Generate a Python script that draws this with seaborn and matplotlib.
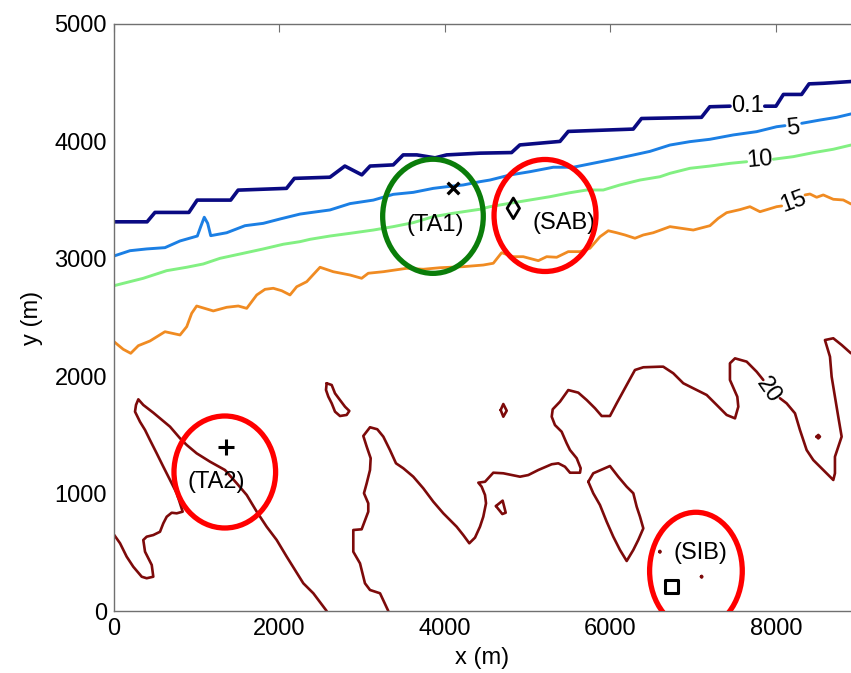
import matplotlib
matplotlib.use("Agg")
import matplotlib.pyplot as plt
import seaborn as sns
import numpy as np
import pandas as pd
from matplotlib.patches import Ellipse

# ---------------- data (metres) ----------------
levels = ["0.1", "5", "10", "15", "20"]
level_colors = ["#0a0a82", "#1b7fe4", "#82f082", "#f08b22", "#7d0a0a"]

# contour 0.1 (two pieces, split by the inline label)
c01_a_x = [0, 400, 495, 905, 1005, 1410, 1500, 2085, 2180, 2610, 2790, 2995, 3095, 3375,
           3495, 3660, 3880, 4020, 4425, 4805, 4905, 5390, 5490, 6275, 6375, 7100, 7200, 7445]
c01_a_y = [3315, 3315, 3395, 3395, 3500, 3500, 3585, 3600, 3685, 3695, 3790, 3715, 3790, 3800,
           3885, 3885, 3860, 3885, 3900, 3905, 3970, 4000, 4085, 4105, 4195, 4205, 4295, 4300]
c01_b_x = [7865, 8000, 8090, 8310, 8400, 8570, 8907]
c01_b_y = [4300, 4300, 4400, 4400, 4490, 4495, 4510]

# contour 5
c5_a_x = [0, 193, 395, 616, 798, 1007, 1048, 1091, 1132, 1169, 1362, 1583, 1804, 2006, 2248,
          2369, 2610, 2852, 3134, 3375, 3617, 3859, 4021, 4221, 4423, 4544, 4786, 5027, 5309,
          5551, 5792, 6034, 6276, 6477, 6719, 6961, 7202, 7484, 7767, 8009, 8109]
c5_a_y = [3024, 3069, 3084, 3095, 3152, 3194, 3274, 3354, 3302, 3197, 3222, 3282, 3302, 3339, 3381,
          3393, 3416, 3470, 3500, 3549, 3566, 3600, 3614, 3629, 3657, 3671, 3714, 3742, 3780,
          3780, 3814, 3848, 3884, 3915, 3969, 3998, 4018, 4055, 4083, 4125, 4134]
c5_b_x = [8311, 8532, 8733, 8907]
c5_b_y = [4154, 4182, 4205, 4234]

# contour 10
c10_a_x = [0, 354, 637, 879, 1079, 1281, 1563, 1804, 2046, 2248, 2369, 2610, 2852, 3134, 3375,
           3617, 3859, 4100, 4423, 4544, 4786, 5027, 5269, 5511, 5713, 5913, 6115, 6357, 6598,
           6719, 6961, 7202, 7444, 7646]
c10_a_y = [2771, 2834, 2899, 2928, 2956, 3004, 3047, 3084, 3124, 3146, 3166, 3194, 3217, 3245, 3274,
           3308, 3359, 3388, 3422, 3444, 3473, 3501, 3529, 3563, 3586, 3586, 3629, 3671, 3699,
           3728, 3771, 3790, 3813, 3827]
c10_b_x = [7968, 8209, 8451, 8693, 8907]
c10_b_y = [3848, 3870, 3904, 3933, 3969]

# contour 15
c15_a_x = [0, 112, 202, 294, 435, 616, 798, 879, 939, 999, 1200, 1362, 1502, 1604, 1725, 1825,
           1925, 2027, 2127, 2208, 2329, 2490, 2650, 2852, 2993, 3073, 3254, 3537, 3738, 3940,
           4221, 4463, 4584, 4685, 4825, 4946, 5128, 5229, 5350, 5490, 5632, 5752, 5873, 5974,
           6075, 6175, 6296, 6397, 6517, 6719, 7001, 7202, 7303, 7404, 7565, 7686, 7807, 8009, 8069]
c15_a_y = [2294, 2229, 2195, 2260, 2300, 2379, 2351, 2422, 2536, 2598, 2556, 2587, 2598, 2578, 2692, 2740,
           2749, 2728, 2692, 2762, 2805, 2928, 2890, 2862, 2834, 2877, 2890, 2919, 2911, 2924,
           2933, 2947, 2962, 3052, 3018, 3018, 2984, 3018, 3013, 3061, 3061, 3090, 3188, 3239,
           3222, 3203, 3175, 3203, 3222, 3274, 3245, 3282, 3345, 3393, 3419, 3444, 3401, 3444, 3450]
c15_b_x = [8351, 8411, 8492, 8572, 8693, 8814, 8907]
c15_b_y = [3544, 3552, 3524, 3544, 3507, 3501, 3467]

# contour 20 (several pieces)
c20_a_x = [0, 73, 153, 233, 335, 395, 475, 456, 375, 354, 395, 475, 556, 596, 637, 697, 758, 830,
           798, 758, 677, 596, 516, 435, 375, 314, 254, 266, 294, 354, 475, 677, 798, 879, 999,
           1160, 1341, 1483, 1604, 1725, 1845, 1966, 2087, 2288, 2409, 2570]
c20_a_y = [650, 577, 463, 377, 292, 279, 292, 392, 505, 605, 633, 647, 675, 747, 803, 837, 832, 846,
           917, 1003, 1116, 1229, 1343, 1456, 1542, 1612, 1698, 1755, 1803, 1755, 1689, 1570, 1471,
           1414, 1343, 1272, 1201, 1088, 988, 846, 718, 605, 463, 236, 151, 0]
c20_b_x = [2570, 2631, 2671, 2731, 2792, 2844, 2812, 2731, 2671, 2631, 2590, 2562, 2570]
c20_b_y = [1940, 1925, 1854, 1797, 1740, 1704, 1670, 1661, 1698, 1769, 1826, 1883, 1940]
c20_c_x = [3315, 3215, 3094, 3033, 2973, 2892, 2892, 2993, 3073, 3073, 3021, 3054, 3094, 3102,
           3054, 3013, 3094, 3182, 3255, 3335, 3408, 3496, 3617, 3738, 3859, 3980, 4141, 4221,
           4294, 4363, 4423, 4463, 4496, 4484, 4443, 4403, 4484, 4584, 4705, 4907, 5007, 5128,
           5290, 5370, 5450, 5511, 5632, 5640, 5592, 5511, 5471, 5410, 5329, 5290, 5302, 5390,
           5490, 5611, 5713, 5813, 5894, 5994, 6075, 6196, 6296, 6397, 6598, 6638, 6759, 6880,
           7001, 7163, 7284, 7404, 7505, 7545, 7533, 7444, 7444, 7505, 7646, 7767, 7847]
c20_c_y = [0, 151, 179, 236, 406, 505, 690, 696, 846, 917, 1003, 1088, 1201, 1301,
           1400, 1491, 1565, 1548, 1485, 1371, 1258, 1216, 1144, 1045, 931, 832, 718, 647,
           577, 625, 718, 803, 917, 988, 1059, 1093, 1101, 1178, 1173, 1144, 1158, 1201,
           1250, 1258, 1229, 1178, 1178, 1216, 1301, 1371, 1428, 1527, 1584, 1655, 1718, 1783,
           1882, 1860, 1797, 1727, 1661, 1661, 1769, 1925, 2053, 2076, 2081, 2081, 2025, 1940,
           1897, 1840, 1755, 1670, 1641, 1740, 1825, 1968, 2110, 2152, 2124, 2038, 1968]
c20_d_x = [8049, 8129, 8230, 8290, 8371, 8451, 8572, 8693, 8713, 8713, 8794, 8753, 8713, 8673,
           8653, 8592, 8693, 8794, 8907]
c20_d_y = [1812, 1769, 1684, 1542, 1371, 1286, 1201, 1116, 1173, 1314, 1485, 1655, 1825, 1996,
           2166, 2308, 2323, 2266, 2195]
c20_e_x = [5732, 5792, 5994, 6094, 6196, 6276, 6317, 6357, 6397, 6336, 6276, 6196, 6115, 6034,
           5954, 5873, 5792, 5732]
c20_e_y = [1101, 1173, 1235, 1144, 1059, 1003, 888, 803, 704, 605, 520, 426, 520, 633,
           761, 903, 1003, 1101]
c20_f_x = [4673, 4705, 4746, 4705, 4673]
c20_f_y = [1712, 1763, 1706, 1655, 1712]
c20_g_x = [4616, 4697, 4734, 4693, 4616]
c20_g_y = [894, 940, 837, 826, 894]
c20_h_x = [8490, 8512, 8532, 8512, 8490]
c20_h_y = [1485, 1500, 1485, 1470, 1485]
c20_i_x = [6590, 6598, 6606, 6598, 6590]
c20_i_y = [505, 512, 505, 498, 505]
c20_j_x = [7094, 7102, 7110, 7102, 7094]
c20_j_y = [292, 299, 292, 285, 292]

contour_pieces = {
    "0.1": [(c01_a_x, c01_a_y), (c01_b_x, c01_b_y)],
    "5": [(c5_a_x, c5_a_y), (c5_b_x, c5_b_y)],
    "10": [(c10_a_x, c10_a_y), (c10_b_x, c10_b_y)],
    "15": [(c15_a_x, c15_a_y), (c15_b_x, c15_b_y)],
    "20": [(c20_a_x, c20_a_y), (c20_b_x, c20_b_y), (c20_c_x, c20_c_y), (c20_d_x, c20_d_y),
           (c20_e_x, c20_e_y), (c20_f_x, c20_f_y), (c20_g_x, c20_g_y), (c20_h_x, c20_h_y),
           (c20_i_x, c20_i_y), (c20_j_x, c20_j_y)],
}

# inline contour labels
clabel_text = ["0.1", "5", "10", "15", "20"]
clabel_x = [7662, 8209, 7807, 8209, 7907]
clabel_y = [4302, 4112, 3842, 3486, 1883]
clabel_rot = [0, 6, 5, 20, -55]

# stations
station_names = ["(TA1)", "(SAB)", "(TA2)", "(SIB)"]
station_x = [4100, 4826, 1353, 6740]
station_y = [3600, 3430, 1400, 207]
station_markers = ["x", "d", "+", "s"]
station_label_x = [3888, 5438, 1233, 7090]
station_label_y = [3288, 3302, 1101, 497]

# highlight ellipses
ell_cx = [3855, 5209, 1339, 7033]
ell_cy = [3362, 3369, 1184, 341]
ell_rx = [608, 616, 614, 560]
ell_ry = [486, 477, 477, 500]
ell_colors = ["#0a7d0a", "#ff0000", "#ff0000", "#ff0000"]

# ---------------- plotting ----------------
sns.set_style("white")
plt.rcParams["font.family"] = ["Liberation Sans", "DejaVu Sans"]

fig = plt.figure(figsize=(8.51, 6.73), dpi=100)
ax = fig.add_axes([114 / 851, 62 / 673, (851 - 114) / 851, (611 - 24) / 673])

widths = {"0.1": 2.6, "5": 2.1, "10": 2.1, "15": 2.0, "20": 1.9}
for lev, col in zip(levels, level_colors):
    for px, py in contour_pieces[lev]:
        sns.lineplot(x=px, y=py, ax=ax, sort=False, estimator=None, color=col,
                     lw=widths[lev], solid_capstyle="round", solid_joinstyle="round")

for t, x, y, r in zip(clabel_text, clabel_x, clabel_y, clabel_rot):
    ax.text(x, y, t, fontsize=17, ha="center", va="center", rotation=r, color="black",
            zorder=5)

for cx, cy, rx, ry, col in zip(ell_cx, ell_cy, ell_rx, ell_ry, ell_colors):
    ax.add_patch(Ellipse((cx, cy), 2 * rx, 2 * ry, fill=False, ec=col, lw=3.8, zorder=6))

for name, x, y, m, lx, ly in zip(station_names, station_x, station_y, station_markers,
                                  station_label_x, station_label_y):
    if m == "x":
        ax.scatter([x], [y], marker="x", s=70, color="black", linewidths=2.4, zorder=7)
    elif m == "+":
        ax.scatter([x], [y], marker="+", s=130, color="black", linewidths=2.2, zorder=7)
    elif m == "d":
        ax.scatter([x], [y], marker="d", s=110, facecolors="none", edgecolors="black",
                   linewidths=2.0, zorder=7)
    else:
        ax.scatter([x], [y], marker="s", s=95, facecolors="none", edgecolors="black",
                   linewidths=2.2, zorder=7)
    ax.text(lx, ly, name, fontsize=17, ha="center", va="center", color="black", zorder=5)

ax.set_xlim(0, 8907)
ax.set_ylim(0, 5000)
ax.set_xticks([0, 2000, 4000, 6000, 8000])
ax.set_yticks([0, 1000, 2000, 3000, 4000, 5000])
ax.set_xlabel("x (m)", fontsize=17, labelpad=5, color="black")
ax.set_ylabel("y (m)", fontsize=17, labelpad=8, color="black")
ax.tick_params(axis="both", which="both", direction="in", length=6, width=0.8,
               colors="#707070", labelcolor="black", labelsize=17, top=True, right=False,
               pad=5)
for side in ["left", "bottom", "top"]:
    ax.spines[side].set_color("#707070")
    ax.spines[side].set_linewidth(1.0)
ax.spines["right"].set_visible(False)
ax.grid(False)

fig.savefig("out.png", dpi=100)
